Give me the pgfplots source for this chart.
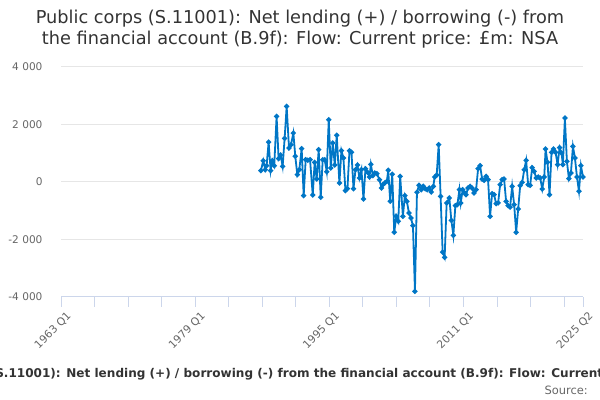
\documentclass[border=0pt]{standalone}
\usepackage{pgfplots}
\pgfplotsset{compat=1.18}
\usepackage{fontspec}
\setmainfont{DejaVu Sans}
\definecolor{linec}{RGB}{0,118,198}
\definecolor{gridc}{RGB}{230,230,230}
\definecolor{axisc}{RGB}{204,214,235}
\definecolor{titlec}{RGB}{51,51,51}
\definecolor{labc}{RGB}{102,102,102}
\begin{document}
\begin{tikzpicture}
\begin{axis}[
  at={(61bp,103bp)}, anchor=south west,
  scale only axis, width=522bp, height=230bp,
  xmin=1963, xmax=2025.25, ymin=-4000, ymax=4000,
  axis x line*=bottom, axis y line*=left,
  y axis line style={draw=none},
  x axis line style={draw=axisc, line width=1bp, -},
  ytick={-4000,-2000,0,2000,4000},
  yticklabels={-4 000,-2 000,0,2 000,4 000},
  ytick style={draw=none},
  ymajorgrids, grid style={draw=gridc, line width=1bp},
  xtick={1963,1979,1995,2011,2025.25},
  xticklabels={1963 Q1,1979 Q1,1995 Q1,2011 Q1,2025 Q2},
  minor xtick={1967,1971,1975,1983,1987,1991,1999,2003,2007,2015,2019,2023},
  xmajorgrids=false,
  tick align=outside, major tick length=10bp, minor tick length=10bp,
  xtick style={draw=axisc, line width=1bp},
  minor x tick style={draw=axisc, line width=1bp},
  x tick label style={rotate=45, anchor=north east, font=\fontsize{10.8}{12}\selectfont, text=labc, inner sep=1bp, yshift=-5bp, xshift=2bp},
  y tick label style={font=\fontsize{10.6}{12}\selectfont, text=labc, xshift=-5bp},
  /pgf/number format/assume math mode=true,
  clip=false,
]
\addplot[color=linec, line width=1.8bp, mark=*, mark size=1.6bp, mark options={fill=linec, draw=linec}] coordinates {
(1986.84,394) (1987.12,742) (1987.36,429) (1987.52,568) (1987.76,1391) (1988.00,394) (1988.20,742) (1988.43,568) (1988.71,2284) (1988.95,812) (1989.19,939) (1989.43,545) (1989.67,1519) (1989.91,2632) (1990.19,1183) (1990.43,1299) (1990.71,1704) (1990.94,893) (1991.18,255) (1991.42,429) (1991.70,1159) (1991.94,-475) (1992.18,777) (1992.42,754) (1992.70,777) (1993.02,-452) (1993.25,684) (1993.49,104) (1993.73,1125) (1993.97,-533) (1994.21,777) (1994.45,777) (1994.69,359) (1994.93,2168) (1995.17,487) (1995.41,1357) (1995.65,591) (1995.88,1623) (1996.20,-35) (1996.44,1090) (1996.68,835) (1996.92,-301) (1997.16,-232) (1997.40,1090) (1997.64,1032) (1997.88,-232) (1998.12,429) (1998.35,591) (1998.59,139) (1998.83,429) (1999.07,-591) (1999.31,464) (1999.55,336) (1999.79,174) (1999.95,614) (2000.19,220) (2000.43,313) (2000.67,290) (2000.98,81) (2001.22,-209) (2001.38,-93) (2001.62,-35) (2001.86,23) (2002.02,406) (2002.26,-672) (2002.50,267) (2002.74,-1751) (2002.98,-1194) (2003.22,-1368) (2003.45,197) (2003.77,-1194) (2004.01,-475) (2004.25,-672) (2004.49,-1078) (2004.73,-1252) (2004.97,-1519) (2005.21,-3803) (2005.45,-359) (2005.69,-116) (2005.96,-267) (2006.20,-151) (2006.44,-232) (2006.68,-267) (2006.92,-209) (2007.16,-348) (2007.40,-151) (2007.56,174) (2007.80,243) (2008.04,1299) (2008.27,-499) (2008.51,-2435) (2008.75,-2620) (2008.99,-730) (2009.31,-557) (2009.55,-1333) (2009.79,-1855) (2010.03,-823) (2010.27,-788) (2010.51,-267) (2010.67,-730) (2010.90,-267) (2011.14,-383) (2011.30,-441) (2011.54,-209) (2011.78,-151) (2012.02,-209) (2012.26,-383) (2012.50,-267) (2012.74,464) (2012.98,568) (2013.22,104) (2013.45,58) (2013.69,197) (2013.93,81) (2014.17,-1194) (2014.41,-406) (2014.65,-441) (2014.89,-754) (2015.13,-730) (2015.37,-93) (2015.61,81) (2015.84,104) (2016.08,-672) (2016.32,-823) (2016.56,-870) (2016.80,-151) (2017.04,-788) (2017.28,-1751) (2017.52,-939) (2017.76,-128) (2018.00,-12) (2018.24,429) (2018.47,754) (2018.71,-93) (2018.95,-116) (2019.19,499) (2019.43,371) (2019.67,139) (2019.91,174) (2020.15,139) (2020.39,-243) (2020.63,174) (2020.79,1148) (2021.02,684) (2021.26,-441) (2021.50,1032) (2021.74,1148) (2021.98,1032) (2022.22,603) (2022.46,1194) (2022.69,1009) (2022.85,603) (2023.09,2226) (2023.33,719) (2023.57,116) (2023.81,313) (2024.05,1241) (2024.29,835) (2024.53,174) (2024.77,-325) (2025.00,568) (2025.25,174)
};
\end{axis}
\node[anchor=base, text=titlec, font=\fontsize{17.8}{21}\selectfont] at (300bp,376bp) {Public corps (S.11001): Net lending (+) / borrowing (-) from};
\node[anchor=base, text=titlec, font=\fontsize{17.8}{21}\selectfont] at (300bp,355bp) {the financial account (B.9f): Flow: Current price: £m: NSA};
\node[anchor=base, text=titlec, font=\bfseries\fontsize{12.1}{14}\selectfont, inner sep=0pt] at (307bp,23bp) {Public corps (S.11001): Net lending (+) / borrowing (-) from the financial account (B.9f): Flow: Current price: £m: NSA};
\node[anchor=base east, text=labc, font=\fontsize{11.5}{13}\selectfont, inner sep=0pt] at (588bp,6bp) {Source:};
\pgfresetboundingbox
\useasboundingbox (0,0) rectangle (600bp,400bp);
\end{tikzpicture}
\end{document}
